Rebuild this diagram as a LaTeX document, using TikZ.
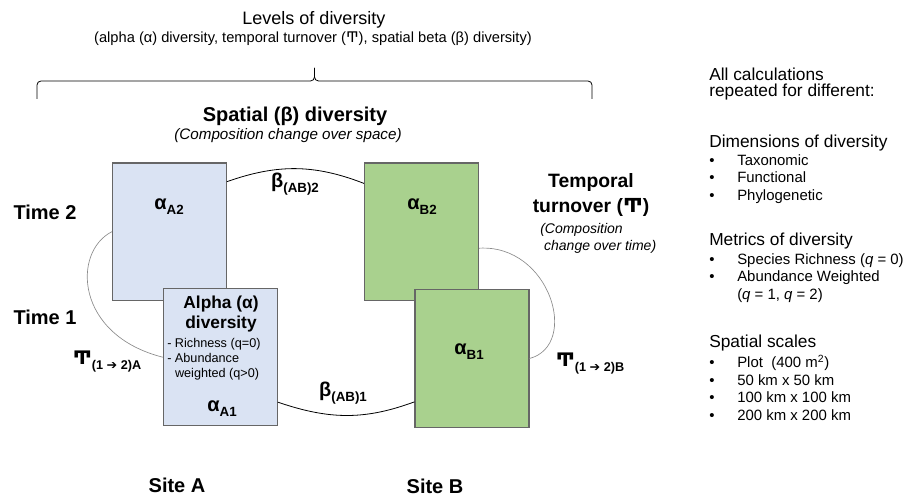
\documentclass[tikz,border=0pt]{standalone}
\usepackage{fontspec}
\setmainfont{Liberation Sans}
\newfontfamily\symfont{DejaVu Sans}
\usetikzlibrary{positioning}

\definecolor{siteA}{HTML}{DAE3F3}
\definecolor{siteB}{HTML}{A9D18E}
\newcommand{\lowsub}[2][10]{\raisebox{-3.6pt}{\fontsize{#1}{#1}\selectfont #2}}
\newcommand{\turn}{{\symfont Ͳ}}
\newcommand{\tarr}{{\symfont ➔}}

\tikzset{
    siteboxA/.style = {draw=black!60, fill=siteA, line width=0.8pt, minimum width=85.5pt, minimum height=103pt},
    siteboxB/.style = {siteboxA, fill=siteB},
    alab/.style = {anchor=base, inner sep=0pt, font=\fontsize{15}{18}\selectfont\bfseries},
    sidelab/.style = {inner sep=0pt, font=\fontsize{15}{18}\selectfont\bfseries},
    betaline/.style = {draw=black, line width=0.6pt},
    turnline/.style = {draw=black!45, line width=0.5pt},
    bracepath/.style = {draw=black, line width=0.6pt, rounded corners=3pt},
    heading/.style = {anchor=base west, inner sep=0pt, font=\fontsize{13}{15}\selectfont},
    itemlist/.style = {anchor=north west, inner sep=0pt, font=\fontsize{11.2}{13.2}\selectfont}
}

\begin{document}
\begin{tikzpicture}[x=0.75pt, y=-0.75pt]
    \useasboundingbox (0,0) rectangle (908,498);

    % Titel
    \node [anchor=base, inner sep=0pt, font=\fontsize{13.5}{16}\selectfont] (levels) at (314,25) {Levels of diversity};
    \node [anchor=base, inner sep=0pt, font=\fontsize{11}{13}\selectfont] (levelsub) at (313,43) {(alpha (α) diversity, temporal turnover (\turn), spatial beta (β) diversity)};

    % Klammer
    \coordinate (brL) at (37,99);
    \coordinate (brR) at (592,99);
    \coordinate (brM) at (314.5,81);
    \coordinate (brT) at (314.5,68);
    \draw [bracepath] (brL) |- (brM) -- (brT);
    \draw [bracepath] (brR) |- (brM) -- (brT);

    \node [anchor=base, inner sep=0pt, font=\fontsize{15}{18}\selectfont\bfseries] (spathead) at (295,122) {Spatial (β) diversity};
    \node [anchor=base, inner sep=0pt, font=\fontsize{11.4}{13}\selectfont\itshape] (spatsub) at (288,140) {(Composition change over space)};

    % Boxen
    \node [siteboxA] (A2) at (169.4,231.7) {};
    \node [siteboxA] (A1) at (220.3,357.2) {};
    \node [siteboxB] (B2) at (421.5,231.7) {};
    \node [siteboxB] (B1) at (472,358.5) {};

    \node [alab] (aA2) at (169,210) {α\lowsub{A2}};
    \node [alab] (aB2) at (422,210) {α\lowsub{B2}};
    \node [alab] (aB1) at (469,355) {α\lowsub{B1}};
    \node [alab] (aA1) at (222,412) {α\lowsub{A1}};

    \node [anchor=north, inner sep=0pt, align=center, font=\fontsize{13}{15}\selectfont\bfseries] (alphahead) at (221,295.5) {Alpha (α)\\diversity};
    \node [anchor=north west, inner sep=0pt, font=\fontsize{9.5}{11.25}\selectfont] (alphalist) at (167,336.5)
        {\begin{tabular}{@{}l@{\ }l@{}}- & Richness (q=0)\\ - & Abundance\\ & weighted (q>0)\end{tabular}};

    % Verbindungen
    \draw [betaline] (A2.41) .. controls (277,164) and (314,164) .. (B2.140);
    \draw [betaline] (A1.-38) .. controls (330,420) and (365,420) .. (B1.217);
    \draw [turnline] (A2.west) .. controls (72,252) and (75,335) .. (A1.west);
    \draw [turnline] (B2.-16) .. controls (550,244) and (580,345) .. (B1.east);

    \node [alab] (bAB2) at (295,188) {β\lowsub{(AB)2}};
    \node [alab] (bAB1) at (343,397) {β\lowsub{(AB)1}};
    \node [alab, font=\fontsize{14}{16}\selectfont\bfseries] (TA) at (107,365) {\turn\lowsub[9.5]{(1 \tarr{} 2)A}};
    \node [alab, font=\fontsize{14}{16}\selectfont\bfseries] (TB) at (590,367) {\turn\lowsub[9.5]{(1 \tarr{} 2)B}};

    % Zeit und Ort
    \node [sidelab] (time2) at (45,212) {Time 2};
    \node [sidelab] (time1) at (45,317) {Time 1};
    \node [sidelab] (siteAlab) at (177,485) {Site A};
    \node [sidelab] (siteBlab) at (435,486) {Site B};

    \node [anchor=north, inner sep=0pt, align=center, font=\fontsize{14.5}{18.75}\selectfont\bfseries] (temphead) at (591,173) {Temporal\\turnover (\turn)};
    \node [anchor=north west, inner sep=0pt, align=left, font=\fontsize{10.5}{12.75}\selectfont\itshape] (tempsub) at (540,223) {(Composition\\\ change over time)};

    % Rechte Spalte
    \node [anchor=north west, inner sep=0pt, align=left, font=\fontsize{13}{12.5}\selectfont] (calc) at (709,67.5) {All calculations\\repeated for different:};
    \node [heading] (dimhead) at (709,148) {Dimensions of diversity};
    \node [itemlist] (dimlist) at (709,152.7)
        {\begin{tabular}{@{}p{21pt}@{}l@{}}• & Taxonomic\\ • & Functional\\ • & Phylogenetic\end{tabular}};
    \node [heading] (methead) at (709,246) {Metrics of diversity};
    \node [itemlist] (metlist) at (709,251.7)
        {\begin{tabular}{@{}p{21pt}@{}l@{}}• & Species Richness (\textit{q} = 0)\\ • & Abundance Weighted\\ & (\textit{q} = 1, \textit{q} = 2)\end{tabular}};
    \node [heading] (scalehead) at (709,348) {Spatial scales};
    \node [itemlist] (scalelist) at (709,354.7)
        {\begin{tabular}{@{}p{21pt}@{}l@{}}• & Plot\ \ (400 m\textsuperscript{2})\\ • & 50 km x 50 km\\ • & 100 km x 100 km\\ • & 200 km x 200 km\end{tabular}};
\end{tikzpicture}
\end{document}
